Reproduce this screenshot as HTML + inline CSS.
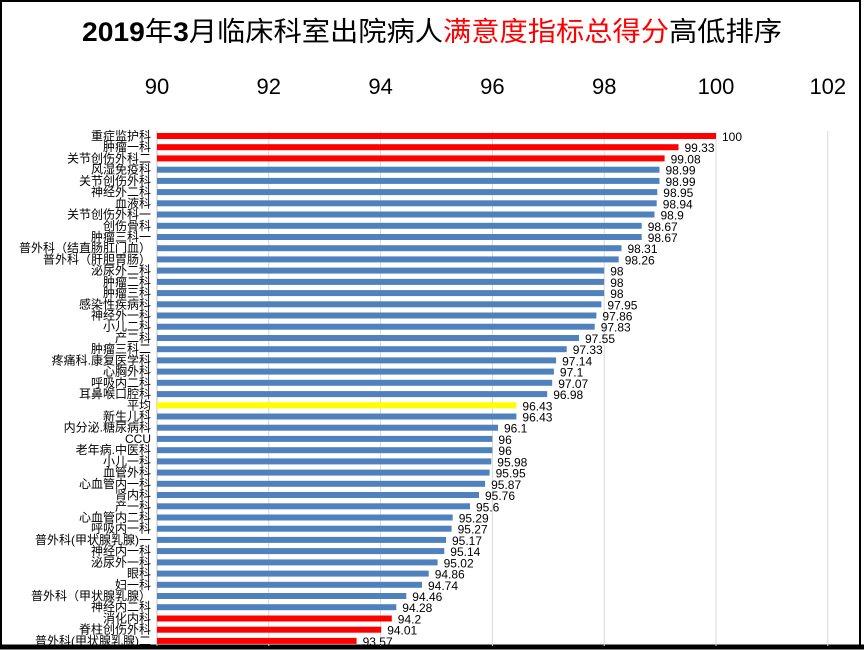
<!DOCTYPE html>
<html><head><meta charset="utf-8"><style>
html,body{margin:0;padding:0;background:#fff}
svg{display:block}
text{font-family:"Liberation Sans","Noto Sans CJK SC",sans-serif}
.l{font-size:12px;text-anchor:end;fill:#000}
.v{font-size:12px;fill:#000}
</style></head><body>
<svg width="864" height="650" viewBox="0 0 864 650" xmlns="http://www.w3.org/2000/svg">
<rect x="0" y="0" width="864" height="650" fill="#fff"/>
<rect x="1" y="1" width="859" height="646" fill="none" stroke="#000" stroke-width="2"/>
<line x1="0" y1="647" x2="864" y2="647" stroke="#000" stroke-width="5"/>
<text x="432" y="41" text-anchor="middle" font-size="27" textLength="700" lengthAdjust="spacingAndGlyphs"><tspan font-weight="bold">2019</tspan>年<tspan font-weight="bold">3</tspan>月临床科室出院病人<tspan fill="#ff0000">满意度指标总得分</tspan>高低排序</text>
<g font-size="22" text-anchor="middle" fill="#000">
<text x="157" y="94">90</text><text x="268.8" y="94">92</text><text x="380.6" y="94">94</text><text x="492.4" y="94">96</text><text x="604.2" y="94">98</text><text x="716" y="94">100</text><text x="827.8" y="94">102</text>
</g>
<g stroke="#d9d9d9" stroke-width="1">
<line x1="268.8" y1="131" x2="268.8" y2="646"/><line x1="380.6" y1="131" x2="380.6" y2="646"/><line x1="492.4" y1="131" x2="492.4" y2="646"/><line x1="604.2" y1="131" x2="604.2" y2="646"/><line x1="716" y1="131" x2="716" y2="646"/><line x1="827.8" y1="131" x2="827.8" y2="646"/>
</g>
<line x1="157" y1="131" x2="157" y2="646" stroke="#bfbfbf"/>
<g id="rows">
<g transform="translate(0,136)"><rect x="157" y="-3" width="559" height="6" fill="#ff0000"/><text class="l" x="151" y="4">重症监护科</text><text class="v" x="722" y="5">100</text></g>
<g transform="translate(0,147.2)"><rect x="157" y="-3" width="521.5" height="6" fill="#ff0000"/><text class="l" x="151" y="4">肿瘤一科</text><text class="v" x="684.5" y="5">99.33</text></g>
<g transform="translate(0,158.4)"><rect x="157" y="-3" width="507.6" height="6" fill="#ff0000"/><text class="l" x="151" y="4">关节创伤外科二</text><text class="v" x="670.6" y="5">99.08</text></g>
<g transform="translate(0,169.7)"><rect x="157" y="-3" width="502.5" height="6" fill="#4f81bd"/><text class="l" x="151" y="4">风湿免疫科</text><text class="v" x="665.5" y="5">98.99</text></g>
<g transform="translate(0,180.9)"><rect x="157" y="-3" width="502.5" height="6" fill="#4f81bd"/><text class="l" x="151" y="4">关节创伤外科</text><text class="v" x="665.5" y="5">98.99</text></g>
<g transform="translate(0,192.1)"><rect x="157" y="-3" width="500.3" height="6" fill="#4f81bd"/><text class="l" x="151" y="4">神经外二科</text><text class="v" x="663.3" y="5">98.95</text></g>
<g transform="translate(0,203.3)"><rect x="157" y="-3" width="499.7" height="6" fill="#4f81bd"/><text class="l" x="151" y="4">血液科</text><text class="v" x="662.7" y="5">98.94</text></g>
<g transform="translate(0,214.5)"><rect x="157" y="-3" width="497.5" height="6" fill="#4f81bd"/><text class="l" x="151" y="4">关节创伤外科一</text><text class="v" x="660.5" y="5">98.9</text></g>
<g transform="translate(0,225.8)"><rect x="157" y="-3" width="484.7" height="6" fill="#4f81bd"/><text class="l" x="151" y="4">创伤骨科</text><text class="v" x="647.7" y="5">98.67</text></g>
<g transform="translate(0,237)"><rect x="157" y="-3" width="484.7" height="6" fill="#4f81bd"/><text class="l" x="151" y="4">肿瘤三科一</text><text class="v" x="647.7" y="5">98.67</text></g>
<g transform="translate(0,248.2)"><rect x="157" y="-3" width="464.5" height="6" fill="#4f81bd"/><text class="l" x="151" y="4">普外科（结直肠肛门血）</text><text class="v" x="627.5" y="5">98.31</text></g>
<g transform="translate(0,259.4)"><rect x="157" y="-3" width="461.7" height="6" fill="#4f81bd"/><text class="l" x="151" y="4">普外科（肝胆胃肠）</text><text class="v" x="624.7" y="5">98.26</text></g>
<g transform="translate(0,270.6)"><rect x="157" y="-3" width="447.2" height="6" fill="#4f81bd"/><text class="l" x="151" y="4">泌尿外二科</text><text class="v" x="610.2" y="5">98</text></g>
<g transform="translate(0,281.9)"><rect x="157" y="-3" width="447.2" height="6" fill="#4f81bd"/><text class="l" x="151" y="4">肿瘤二科</text><text class="v" x="610.2" y="5">98</text></g>
<g transform="translate(0,293.1)"><rect x="157" y="-3" width="447.2" height="6" fill="#4f81bd"/><text class="l" x="151" y="4">肿瘤三科</text><text class="v" x="610.2" y="5">98</text></g>
<g transform="translate(0,304.3)"><rect x="157" y="-3" width="444.4" height="6" fill="#4f81bd"/><text class="l" x="151" y="4">感染性疾病科</text><text class="v" x="607.4" y="5">97.95</text></g>
<g transform="translate(0,315.5)"><rect x="157" y="-3" width="439.4" height="6" fill="#4f81bd"/><text class="l" x="151" y="4">神经外一科</text><text class="v" x="602.4" y="5">97.86</text></g>
<g transform="translate(0,326.7)"><rect x="157" y="-3" width="437.7" height="6" fill="#4f81bd"/><text class="l" x="151" y="4">小儿二科</text><text class="v" x="600.7" y="5">97.83</text></g>
<g transform="translate(0,338)"><rect x="157" y="-3" width="422" height="6" fill="#4f81bd"/><text class="l" x="151" y="4">产二科</text><text class="v" x="585" y="5">97.55</text></g>
<g transform="translate(0,349.2)"><rect x="157" y="-3" width="409.7" height="6" fill="#4f81bd"/><text class="l" x="151" y="4">肿瘤三科二</text><text class="v" x="572.7" y="5">97.33</text></g>
<g transform="translate(0,360.4)"><rect x="157" y="-3" width="399.1" height="6" fill="#4f81bd"/><text class="l" x="151" y="4">疼痛科.康复医学科</text><text class="v" x="562.1" y="5">97.14</text></g>
<g transform="translate(0,371.6)"><rect x="157" y="-3" width="396.9" height="6" fill="#4f81bd"/><text class="l" x="151" y="4">心胸外科</text><text class="v" x="559.9" y="5">97.1</text></g>
<g transform="translate(0,382.8)"><rect x="157" y="-3" width="395.2" height="6" fill="#4f81bd"/><text class="l" x="151" y="4">呼吸内二科</text><text class="v" x="558.2" y="5">97.07</text></g>
<g transform="translate(0,394.1)"><rect x="157" y="-3" width="390.2" height="6" fill="#4f81bd"/><text class="l" x="151" y="4">耳鼻喉口腔科</text><text class="v" x="553.2" y="5">96.98</text></g>
<g transform="translate(0,405.3)"><rect x="157" y="-3" width="359.4" height="6" fill="#ffff00"/><text class="l" x="151" y="4">平均</text><text class="v" x="522.4" y="5">96.43</text></g>
<g transform="translate(0,416.5)"><rect x="157" y="-3" width="359.4" height="6" fill="#4f81bd"/><text class="l" x="151" y="4">新生儿科</text><text class="v" x="522.4" y="5">96.43</text></g>
<g transform="translate(0,427.7)"><rect x="157" y="-3" width="341" height="6" fill="#4f81bd"/><text class="l" x="151" y="4">内分泌.糖尿病科</text><text class="v" x="504" y="5">96.1</text></g>
<g transform="translate(0,438.9)"><rect x="157" y="-3" width="335.4" height="6" fill="#4f81bd"/><text class="l" x="151" y="4">CCU</text><text class="v" x="498.4" y="5">96</text></g>
<g transform="translate(0,450.2)"><rect x="157" y="-3" width="335.4" height="6" fill="#4f81bd"/><text class="l" x="151" y="4">老年病.中医科</text><text class="v" x="498.4" y="5">96</text></g>
<g transform="translate(0,461.4)"><rect x="157" y="-3" width="334.3" height="6" fill="#4f81bd"/><text class="l" x="151" y="4">小儿一科</text><text class="v" x="497.3" y="5">95.98</text></g>
<g transform="translate(0,472.6)"><rect x="157" y="-3" width="332.6" height="6" fill="#4f81bd"/><text class="l" x="151" y="4">血管外科</text><text class="v" x="495.6" y="5">95.95</text></g>
<g transform="translate(0,483.8)"><rect x="157" y="-3" width="328.1" height="6" fill="#4f81bd"/><text class="l" x="151" y="4">心血管内一科</text><text class="v" x="491.1" y="5">95.87</text></g>
<g transform="translate(0,495)"><rect x="157" y="-3" width="322" height="6" fill="#4f81bd"/><text class="l" x="151" y="4">肾内科</text><text class="v" x="485" y="5">95.76</text></g>
<g transform="translate(0,506.3)"><rect x="157" y="-3" width="313" height="6" fill="#4f81bd"/><text class="l" x="151" y="4">产一科</text><text class="v" x="476" y="5">95.6</text></g>
<g transform="translate(0,517.5)"><rect x="157" y="-3" width="295.7" height="6" fill="#4f81bd"/><text class="l" x="151" y="4">心血管内二科</text><text class="v" x="458.7" y="5">95.29</text></g>
<g transform="translate(0,528.7)"><rect x="157" y="-3" width="294.6" height="6" fill="#4f81bd"/><text class="l" x="151" y="4">呼吸内一科</text><text class="v" x="457.6" y="5">95.27</text></g>
<g transform="translate(0,539.9)"><rect x="157" y="-3" width="289" height="6" fill="#4f81bd"/><text class="l" x="151" y="4">普外科(甲状腺乳腺)一</text><text class="v" x="452" y="5">95.17</text></g>
<g transform="translate(0,551.1)"><rect x="157" y="-3" width="287.3" height="6" fill="#4f81bd"/><text class="l" x="151" y="4">神经内一科</text><text class="v" x="450.3" y="5">95.14</text></g>
<g transform="translate(0,562.4)"><rect x="157" y="-3" width="280.6" height="6" fill="#4f81bd"/><text class="l" x="151" y="4">泌尿外一科</text><text class="v" x="443.6" y="5">95.02</text></g>
<g transform="translate(0,573.6)"><rect x="157" y="-3" width="271.7" height="6" fill="#4f81bd"/><text class="l" x="151" y="4">眼科</text><text class="v" x="434.7" y="5">94.86</text></g>
<g transform="translate(0,584.8)"><rect x="157" y="-3" width="265" height="6" fill="#4f81bd"/><text class="l" x="151" y="4">妇一科</text><text class="v" x="428" y="5">94.74</text></g>
<g transform="translate(0,596)"><rect x="157" y="-3" width="249.3" height="6" fill="#4f81bd"/><text class="l" x="151" y="4">普外科（甲状腺乳腺）</text><text class="v" x="412.3" y="5">94.46</text></g>
<g transform="translate(0,607.2)"><rect x="157" y="-3" width="239.3" height="6" fill="#4f81bd"/><text class="l" x="151" y="4">神经内二科</text><text class="v" x="402.3" y="5">94.28</text></g>
<g transform="translate(0,618.5)"><rect x="157" y="-3" width="234.8" height="6" fill="#ff0000"/><text class="l" x="151" y="4">消化内科</text><text class="v" x="397.8" y="5">94.2</text></g>
<g transform="translate(0,629.7)"><rect x="157" y="-3" width="224.2" height="6" fill="#ff0000"/><text class="l" x="151" y="4">脊柱创伤外科</text><text class="v" x="387.2" y="5">94.01</text></g>
<g transform="translate(0,640.9)"><rect x="157" y="-3" width="199.6" height="6" fill="#ff0000"/><text class="l" x="151" y="4">普外科(甲状腺乳腺)二</text><text class="v" x="362.6" y="5">93.57</text></g>
</g>
</svg>
</body></html>
